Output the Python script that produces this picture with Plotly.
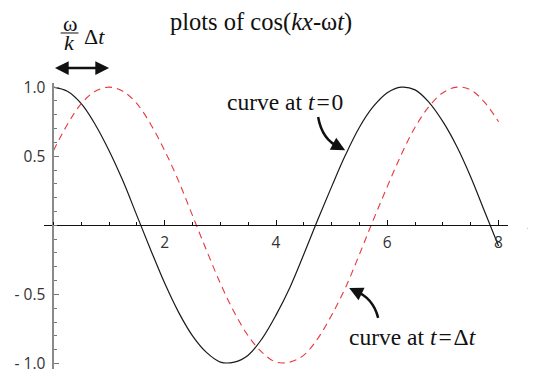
import plotly.graph_objects as go

x_vals = [0, 0.25, 0.5, 0.75, 1, 1.25, 1.5, 1.75, 2, 2.25, 2.5, 2.75, 3, 3.25, 3.5, 3.75,
          4, 4.25, 4.5, 4.75, 5, 5.25, 5.5, 5.75, 6, 6.25, 6.5, 6.75, 7, 7.25, 7.5, 7.75, 8]
curve_t0 = [1.00, 0.97, 0.88, 0.73, 0.54, 0.32, 0.07, -0.18, -0.42, -0.63, -0.80, -0.92,
            -0.99, -0.99, -0.94, -0.82, -0.65, -0.45, -0.21, 0.04, 0.28, 0.51, 0.71, 0.86,
            0.96, 1.00, 0.98, 0.89, 0.75, 0.57, 0.35, 0.10, -0.15]
curve_dt = [0.54, 0.73, 0.88, 0.97, 1.00, 0.97, 0.88, 0.73, 0.54, 0.32, 0.07, -0.18,
            -0.42, -0.63, -0.80, -0.92, -0.99, -0.99, -0.94, -0.82, -0.65, -0.45, -0.21,
            0.04, 0.28, 0.51, 0.71, 0.86, 0.96, 1.00, 0.98, 0.89, 0.75]

x_ticks = [2, 4, 6, 8]
x_tick_text = ["2", "4", "6", "8"]
y_ticks = [-1.0, -0.5, 0.5, 1.0]
y_tick_text = ["- 1.0", "- 0.5", "0.5", "1.0"]

X_RANGE = [-0.17, 8.17]
Y_RANGE = [-1.04, 1.03]
PLOT_W = 464

SERIF = "Liberation Serif, Times New Roman, serif"
SANS = "Open Sans, Noto Sans, sans-serif"


def px(x):
    return (x - X_RANGE[0]) / (X_RANGE[1] - X_RANGE[0])


def py(y):
    return (y - Y_RANGE[0]) / (Y_RANGE[1] - Y_RANGE[0])


fig = go.Figure()

fig.add_trace(go.Scatter(
    x=x_vals, y=curve_t0, mode="lines", line_shape="spline",
    line=dict(color="#1a1a1a", width=1.2), showlegend=False,
))
fig.add_trace(go.Scatter(
    x=x_vals, y=curve_dt, mode="lines", line_shape="spline",
    line=dict(color="#e8383d", width=1.1, dash="7px,5px"), showlegend=False,
))


def note(text, x, y, size=23.5, xanchor="center"):
    # positions given in data units, placed on paper so they may sit outside the axes
    fig.add_annotation(
        text=text, x=px(x), y=py(y), xref="paper", yref="paper", showarrow=False,
        xanchor=xanchor, yanchor="middle",
        font=dict(family=SERIF, size=size, color="#111"),
    )


def arrow(x0, y0, x1, y1):
    fig.add_annotation(
        x=x1, y=y1, ax=x0, ay=y0, xref="x", yref="y", axref="x", ayref="y",
        text="", showarrow=True, arrowhead=2, arrowsize=1.1, arrowwidth=2.5,
        arrowcolor="#111", standoff=0,
    )


note("plots of cos(<i>kx</i>-ω<i>t</i>)", 3.73, 1.473, size=24.5)
note("curve at <i>t</i>\u200a=\u200a0", 4.17, 0.89)
note("curve at <i>t</i>\u200a=\u200aΔ<i>t</i>", 6.45, -0.81)
note("<i>x</i>", 8.48, 0.03, size=24, xanchor="left")

# omega/k delta t label with double arrow
note("ω", 0.30, 1.46, size=22)
note("<i>k</i>", 0.28, 1.32, size=22)
note("Δ<i>t</i>", 0.73, 1.37, size=22)
fig.add_shape(type="line", xref="paper", yref="paper",
              x0=px(0.13), x1=px(0.45), y0=py(1.392), y1=py(1.392),
              line=dict(color="#111", width=1))
fig.add_annotation(
    x=px(1), y=py(1.138), xref="paper", yref="paper",
    ax=-(px(1) - px(0)) * PLOT_W, ay=0, text="", showarrow=True,
    arrowhead=2, arrowsize=1.1, arrowwidth=2.5, arrowcolor="#111",
    arrowside="end+start", standoff=0, startstandoff=0,
)

# curved pointers
fig.add_shape(type="path", xref="x", yref="y",
              path="M 4.757,0.784 Q 4.83,0.617 5.135,0.567",
              line=dict(color="#111", width=2.5))
arrow(5.135, 0.567, 5.243, 0.544)
fig.add_shape(type="path", xref="x", yref="y",
              path="M 5.836,-0.670 Q 5.746,-0.526 5.423,-0.475",
              line=dict(color="#111", width=2.5))
arrow(5.423, -0.475, 5.315, -0.454)

fig.update_layout(
    width=536, height=369,
    # page body adds 8px, so the margins are pulled in by that much
    margin=dict(l=36, r=36, t=75, b=8),
    plot_bgcolor="white", paper_bgcolor="white",
    font=dict(family=SANS, size=15.5, color="#333"),
    xaxis=dict(
        range=X_RANGE, anchor="free", position=py(0), side="bottom",
        showgrid=False, zeroline=False, automargin=False,
        showline=True, linecolor="#111", linewidth=1.2,
        tickmode="array", tickvals=x_ticks, ticktext=x_tick_text,
        ticks="inside", ticklen=5, tickwidth=1, tickcolor="#111",
        ticklabelstandoff=3,
        minor=dict(tickmode="linear", tick0=0, dtick=0.5, ticks="inside",
                   ticklen=3, tickcolor="#111"),
    ),
    yaxis=dict(
        range=Y_RANGE, anchor="free", position=px(0), side="left",
        showgrid=False, zeroline=False, automargin=False,
        showline=True, linecolor="#8a8a8a", linewidth=2,
        tickmode="array", tickvals=y_ticks, ticktext=y_tick_text,
        ticks="inside", ticklen=5, tickwidth=1, tickcolor="#777",
        ticklabelstandoff=4,
        minor=dict(tickmode="linear", tick0=0, dtick=0.1, ticks="inside",
                   ticklen=3, tickcolor="#777"),
    ),
)

fig.write_html("out.html")
